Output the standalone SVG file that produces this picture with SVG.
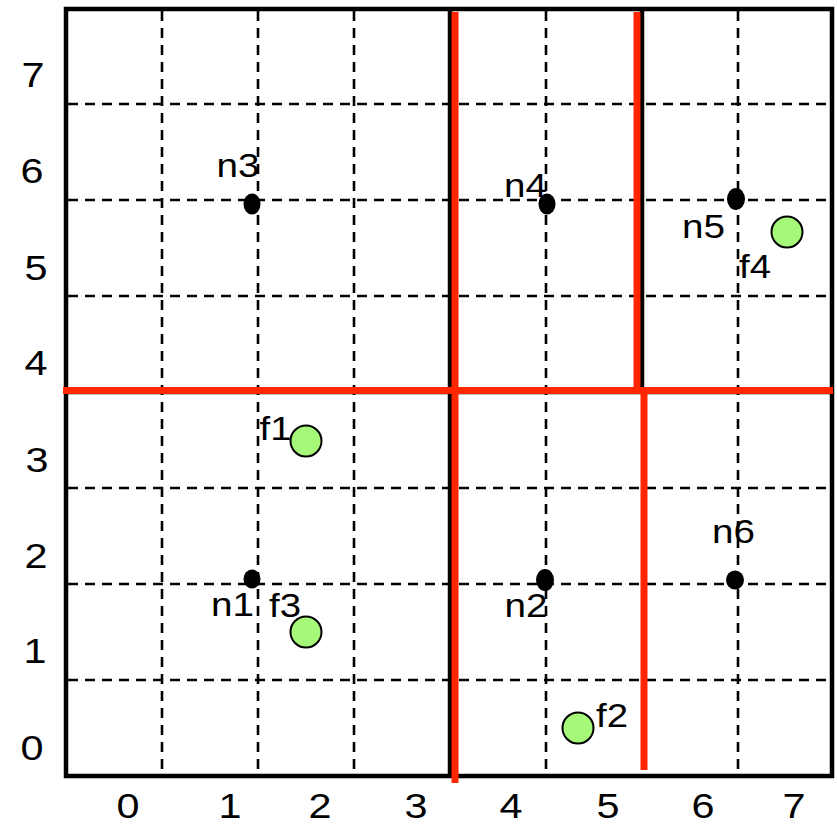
<svg xmlns="http://www.w3.org/2000/svg" width="837" height="826" viewBox="0 0 837 826">
<style>
.dash{stroke:#000;stroke-width:2.6;stroke-dasharray:10 7;fill:none}
.solid{stroke:#000;stroke-width:4.5;fill:none}
.red{stroke:#ff2600;stroke-width:7;fill:none}
.dot{fill:#000}
.pt{fill:#a6f878;stroke:#000;stroke-width:2}
.ax{font-family:"Liberation Sans",Arial,sans-serif;font-size:35px;fill:#000;text-anchor:middle}
.lb{font-family:"Liberation Sans",Arial,sans-serif;font-size:33px;fill:#000;text-anchor:middle}
</style>
<rect width="837" height="826" fill="#fff"/>
<g id="grid">
<path class="dash" d="M162 11V774M258 11V774M354 11V774M546 11V774M738 11V774"/>
<path class="dash" d="M68 104H830M68 200H830M68 296H830M68 488H830M68 584H830M68 680H830"/>
<path class="solid" d="M450 9V776M642 9V392M66 392H832"/>
<rect class="solid" x="66" y="9" width="766" height="767" stroke-width="5"/>
</g>
<g id="connectors">
<path class="red" d="M63 390.5H833"/>
<path class="red" d="M455 12V783"/>
<path class="red" d="M637 12V390"/>
<path class="red" d="M644 390V770"/>
</g>
<g id="axis-x">
<text class="ax" x="128" y="818" textLength="23" lengthAdjust="spacingAndGlyphs">0</text>
<text class="ax" x="230" y="818" textLength="23" lengthAdjust="spacingAndGlyphs">1</text>
<text class="ax" x="320" y="818" textLength="23" lengthAdjust="spacingAndGlyphs">2</text>
<text class="ax" x="416" y="818" textLength="23" lengthAdjust="spacingAndGlyphs">3</text>
<text class="ax" x="511" y="818" textLength="23" lengthAdjust="spacingAndGlyphs">4</text>
<text class="ax" x="608" y="818" textLength="23" lengthAdjust="spacingAndGlyphs">5</text>
<text class="ax" x="703" y="818" textLength="23" lengthAdjust="spacingAndGlyphs">6</text>
<text class="ax" x="794" y="818" textLength="23" lengthAdjust="spacingAndGlyphs">7</text>
</g>
<g id="axis-y">
<text class="ax" x="33" y="87" textLength="23" lengthAdjust="spacingAndGlyphs">7</text>
<text class="ax" x="32" y="183" textLength="23" lengthAdjust="spacingAndGlyphs">6</text>
<text class="ax" x="36" y="280" textLength="23" lengthAdjust="spacingAndGlyphs">5</text>
<text class="ax" x="36" y="375" textLength="23" lengthAdjust="spacingAndGlyphs">4</text>
<text class="ax" x="37" y="472" textLength="23" lengthAdjust="spacingAndGlyphs">3</text>
<text class="ax" x="36" y="568" textLength="23" lengthAdjust="spacingAndGlyphs">2</text>
<text class="ax" x="35" y="663" textLength="23" lengthAdjust="spacingAndGlyphs">1</text>
<text class="ax" x="32" y="760" textLength="23" lengthAdjust="spacingAndGlyphs">0</text>
</g>
<g id="n1"><ellipse class="dot" cx="252" cy="579" rx="8.5" ry="9.5"/><text class="lb" x="232.5" y="616" textLength="43" lengthAdjust="spacingAndGlyphs">n1</text></g>
<g id="n2"><ellipse class="dot" cx="545" cy="580" rx="9" ry="11"/><text class="lb" x="526" y="617" textLength="43" lengthAdjust="spacingAndGlyphs">n2</text></g>
<g id="n3"><ellipse class="dot" cx="252" cy="204" rx="8.5" ry="10.5"/><text class="lb" x="238" y="177" textLength="43" lengthAdjust="spacingAndGlyphs">n3</text></g>
<g id="n4"><ellipse class="dot" cx="547" cy="204" rx="8.5" ry="10.5"/><text class="lb" x="525.5" y="197" textLength="43" lengthAdjust="spacingAndGlyphs">n4</text></g>
<g id="n5"><ellipse class="dot" cx="736" cy="199" rx="9" ry="11"/><text class="lb" x="703.5" y="238" textLength="43" lengthAdjust="spacingAndGlyphs">n5</text></g>
<g id="n6"><ellipse class="dot" cx="735" cy="580" rx="9" ry="9.5"/><text class="lb" x="733.5" y="543" textLength="43" lengthAdjust="spacingAndGlyphs">n6</text></g>
<g id="f1"><circle class="pt" cx="306" cy="441" r="15.5"/><text class="lb" x="275.5" y="440" textLength="32" lengthAdjust="spacingAndGlyphs">f1</text></g>
<g id="f2"><circle class="pt" cx="578" cy="728" r="15.5"/><text class="lb" x="612" y="727" textLength="32" lengthAdjust="spacingAndGlyphs">f2</text></g>
<g id="f3"><circle class="pt" cx="306" cy="632" r="15.5"/><text class="lb" x="285" y="617" textLength="32" lengthAdjust="spacingAndGlyphs">f3</text></g>
<g id="f4"><circle class="pt" cx="787" cy="232" r="15.5"/><text class="lb" x="755" y="278" textLength="32" lengthAdjust="spacingAndGlyphs">f4</text></g>
</svg>
